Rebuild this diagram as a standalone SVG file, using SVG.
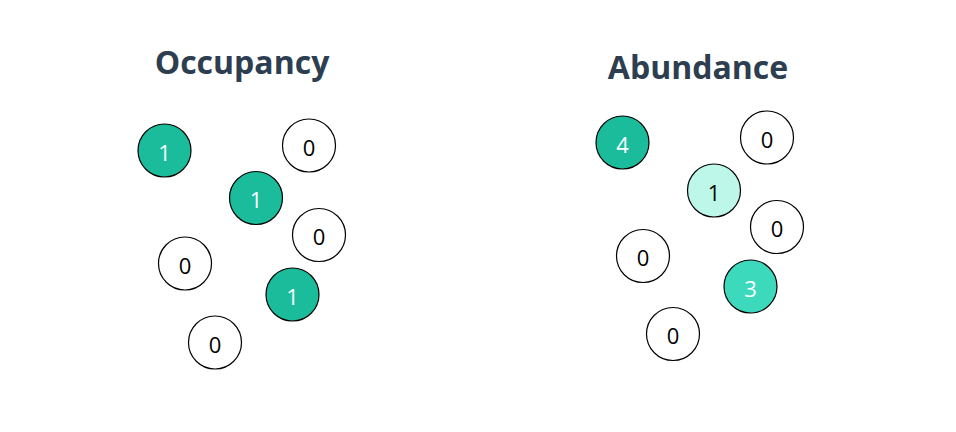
<svg xmlns="http://www.w3.org/2000/svg" width="956" height="432" viewBox="0 0 956 432">
<style>
.title{font-family:"Open Sans","Liberation Sans",sans-serif;font-weight:bold;font-size:32px;fill:#2c3e50;text-anchor:middle}
.site{stroke:#000;stroke-width:1.2}
.lbl{font-family:"Open Sans","Liberation Sans",sans-serif;font-size:22px;text-anchor:middle;dominant-baseline:central}
.empty{fill:#fff}
.dark{fill:#1abc9c}
.light{fill:#bdf7ea}
.mid{fill:#3dd9bd}
.w{fill:#fff}
.k{fill:#000}
</style>
<rect width="956" height="432" fill="#fff"/>
<text class="title" x="242" y="74">Occupancy</text>
<text class="title" x="698" y="79">Abundance</text>
<g id="occ1"><circle class="site dark" cx="164.5" cy="150.5" r="26.5"/><text class="lbl w" x="164.5" y="151.5">1</text></g>
<g id="occ2"><circle class="site empty" cx="309" cy="145.5" r="26.5"/><text class="lbl k" x="309" y="146.5">0</text></g>
<g id="occ3"><circle class="site dark" cx="256" cy="198" r="26.5"/><text class="lbl w" x="256" y="199">1</text></g>
<g id="occ4"><circle class="site empty" cx="319" cy="235" r="26.5"/><text class="lbl k" x="319" y="236">0</text></g>
<g id="occ5"><circle class="site empty" cx="185" cy="263.5" r="26.5"/><text class="lbl k" x="185" y="264.5">0</text></g>
<g id="occ6"><circle class="site dark" cx="292.5" cy="294.5" r="26.5"/><text class="lbl w" x="292.5" y="295.5">1</text></g>
<g id="occ7"><circle class="site empty" cx="215" cy="342.5" r="26.5"/><text class="lbl k" x="215" y="343.5">0</text></g>
<g id="ab1"><circle class="site dark" cx="622.5" cy="142.5" r="26.5"/><text class="lbl w" x="622.5" y="143.5">4</text></g>
<g id="ab2"><circle class="site empty" cx="767" cy="137.5" r="26.5"/><text class="lbl k" x="767" y="138.5">0</text></g>
<g id="ab3"><circle class="site light" cx="714" cy="190.5" r="26.5"/><text class="lbl k" x="714" y="191.5">1</text></g>
<g id="ab4"><circle class="site empty" cx="777" cy="227" r="26.5"/><text class="lbl k" x="777" y="228">0</text></g>
<g id="ab5"><circle class="site empty" cx="643" cy="256" r="26.5"/><text class="lbl k" x="643" y="257">0</text></g>
<g id="ab6"><circle class="site mid" cx="750.5" cy="286.5" r="26.5"/><text class="lbl w" x="750.5" y="287.5">3</text></g>
<g id="ab7"><circle class="site empty" cx="673" cy="334" r="26.5"/><text class="lbl k" x="673" y="335">0</text></g>
<g id="connectors"></g>
</svg>
